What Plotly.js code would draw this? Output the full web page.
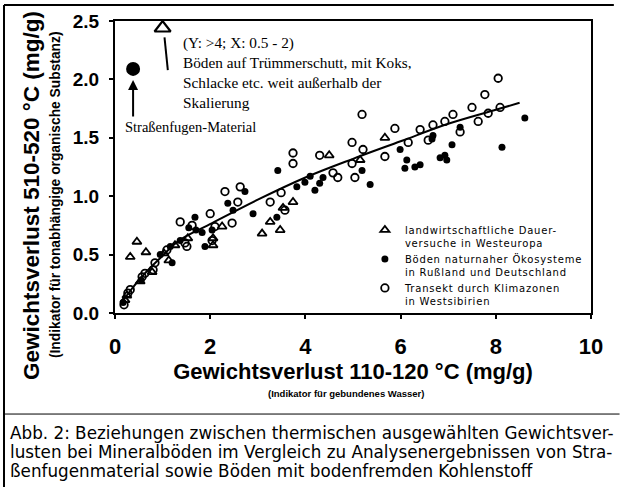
<!DOCTYPE html>
<html>
<head>
<meta charset="utf-8">
<script src="https://cdn.plot.ly/plotly-3.0.1.min.js"></script>
<style>
html,body{margin:0;padding:0;background:#fff;}
#chart .legendtext{letter-spacing:0.8px;}
#chart g.legend g.scrollbox{clip-path:none !important;}
</style>
</head>
<body>
<div id="chart" style="width:624px;height:487px;"></div>
<script>
// Landwirtschaftliche Dauerversuche in Westeuropa (open triangles)
const triX = [0.21,0.25,0.32,0.46,0.65,1.03,1.13,0.53,0.78,1.26,1.53,2.06,2.25,2.06,3.09,3.26,3.47,3.53,3.74,4.50,5.15,5.67];
const triY = [0.11,0.15,0.48,0.61,0.52,0.51,0.45,0.27,0.35,0.58,0.64,0.58,0.74,0.64,0.68,0.78,0.71,0.90,0.95,1.35,1.31,1.50];

// Böden naturnaher Ökosysteme in Rußland und Deutschland (filled circles)
const filX = [0.17,0.55,0.95,1.20,1.16,1.37,1.55,1.68,1.70,1.83,1.89,2.04,2.37,2.73,2.48,2.90,3.40,3.42,3.82,3.99,4.10,4.20,4.30,4.37,5.19,5.36,5.99,6.13,6.09,6.30,6.41,6.68,6.66,7.08,6.83,6.93,6.97,7.25,8.13,8.61];
const filY = [0.09,0.28,0.50,0.43,0.57,0.62,0.73,0.82,0.71,0.69,0.57,0.71,0.94,1.04,0.88,0.85,0.82,1.22,1.08,1.12,1.17,1.05,1.11,1.16,1.22,1.10,1.40,1.31,1.24,1.25,1.27,1.52,1.49,1.44,1.33,1.35,1.31,1.59,1.42,1.67];

// Transekt durch Klimazonen in Westsibirien (open circles)
const opnX = [0.19,0.27,0.32,0.57,0.63,0.80,0.84,1.09,1.37,1.47,1.51,1.62,2.00,2.04,2.10,2.31,2.46,2.58,2.63,3.26,3.49,3.57,3.74,3.74,4.30,4.58,4.68,4.98,4.98,5.04,5.19,5.21,5.67,5.88,6.16,6.41,6.58,6.68,6.93,7.10,7.25,7.50,7.63,7.77,7.84,8.05,8.09];
const opnY = [0.07,0.17,0.20,0.31,0.34,0.37,0.43,0.54,0.78,0.60,0.57,0.75,0.85,0.62,0.74,1.04,0.77,0.95,1.08,0.95,1.03,0.88,1.37,1.28,1.35,1.20,1.16,1.46,1.28,1.16,1.70,1.40,1.34,1.58,1.46,1.57,1.48,1.61,1.64,1.70,1.55,1.76,1.64,1.87,1.71,2.01,1.76];

// Regression curve
const fitX = [0.15,0.30,0.63,1.00,1.34,2.04,3.00,4.00,5.00,6.00,7.00,8.00,8.50];
const fitY = [0.09,0.18,0.34,0.49,0.62,0.77,0.97,1.16,1.32,1.47,1.62,1.74,1.80];

// Special points
const streetX = [0.38];
const streetY = [2.09];
const rubbleX = [1.00];
const rubbleY = [2.44];

const xTicks = [0,2,4,6,8,10];
const yTicks = [0,0.5,1,1.5,2,2.5];

const sans = 'Liberation Sans, Arial, sans-serif';
const serif = 'Liberation Serif, Times New Roman, serif';
const wide = 'DejaVu Sans, sans-serif';

const traces = [
  {x: triX, y: triY, type: 'scatter', mode: 'markers',
   name: 'landwirtschaftliche Dauer-<br>versuche in Westeuropa',
   marker: {symbol: 'triangle-up-open', size: 8, color: '#000', line: {width: 1.8, color: '#000'}}},
  {x: filX, y: filY, type: 'scatter', mode: 'markers',
   name: 'Böden naturnaher Ökosysteme<br>in Rußland und Deutschland',
   marker: {symbol: 'circle', size: 7, color: '#000'}},
  {x: opnX, y: opnY, type: 'scatter', mode: 'markers',
   name: 'Transekt durch Klimazonen<br>in Westsibirien',
   marker: {symbol: 'circle-open', size: 7.5, color: '#000', line: {width: 1.8, color: '#000'}}},
  {x: fitX, y: fitY, type: 'scatter', mode: 'lines', showlegend: false,
   line: {color: '#000', width: 2, shape: 'spline'}},
  {x: streetX, y: streetY, type: 'scatter', mode: 'markers', showlegend: false,
   marker: {symbol: 'circle-dot', size: 11, color: '#000', line: {width: 3, color: '#000'}}},
  {x: rubbleX, y: rubbleY, type: 'scatter', mode: 'markers', showlegend: false, cliponaxis: false,
   marker: {symbol: 'triangle-up-open', size: 14, color: '#000', line: {width: 2.2, color: '#000'}}}
];

const layout = {
  width: 624, height: 487,
  margin: {l: 115, r: 33, t: 21, b: 174},
  paper_bgcolor: '#fff', plot_bgcolor: '#fff',
  showlegend: true,
  legend: {x: 0.525, y: 0.329, xanchor: 'left', yanchor: 'top', valign: 'top',
           bgcolor: 'rgba(0,0,0,0)', font: {family: wide, size: 10, color: '#000'},
           tracegroupgap: 0, itemwidth: 30},
  xaxis: {range: [0, 10], tickvals: xTicks, ticks: 'outside', ticklen: 4, tickwidth: 1.5, tickcolor: '#000',
          showline: true, linewidth: 2, linecolor: '#000', mirror: true, showgrid: false, zeroline: false,
          tickfont: {family: sans, size: 22, weight: 'bold', color: '#000'}, ticklabelstandoff: 9,
          title: {text: 'Gewichtsverlust 110-120 °C (mg/g)', standoff: 0,
                  font: {family: sans, size: 22, weight: 'bold', color: '#000'}}},
  yaxis: {range: [0, 2.5], tickvals: yTicks, tickformat: '.1f', ticks: 'outside', ticklen: 4, tickwidth: 1.5, tickcolor: '#000',
          showline: true, linewidth: 2, linecolor: '#000', mirror: true, showgrid: false, zeroline: false,
          tickfont: {family: sans, size: 19, weight: 'bold', color: '#000'}, ticklabelstandoff: 6},
  annotations: [
    {xref: 'paper', yref: 'paper', x: -0.1765, y: 0.404, text: 'Gewichtsverlust 510-520 °C (mg/g)',
     textangle: -90, showarrow: false, xanchor: 'center', yanchor: 'middle',
     font: {family: sans, size: 22.5, weight: 'bold', color: '#000'}},
    {xref: 'paper', yref: 'paper', x: -0.126, y: 0.404, text: '(Indikator für tonabhängige organische Substanz)',
     textangle: -90, showarrow: false, xanchor: 'center', yanchor: 'middle',
     font: {family: sans, size: 13.8, weight: 'bold', color: '#000'}},
    {xref: 'paper', yref: 'paper', x: 0.485, y: -0.274, text: '(Indikator für gebundenes Wasser)',
     showarrow: false, xanchor: 'center', yanchor: 'middle',
     font: {family: sans, size: 9.5, weight: 'bold', color: '#000'}},
    {xref: 'paper', yref: 'paper', x: 0.1387, y: 0.963, xanchor: 'left', yanchor: 'top', align: 'left',
     text: '(Y: >4; X: 0.5 - 2)<br>Böden auf Trümmerschutt, mit Koks,<br>Schlacke etc. weit außerhalb der<br>Skalierung',
     showarrow: false, font: {family: serif, size: 15.3, color: '#000'}},
    {xref: 'paper', yref: 'paper', x: 0.0168, y: 0.637, xanchor: 'left', yanchor: 'middle',
     text: 'Straßenfugen-Material', showarrow: false, font: {family: serif, size: 14.5, color: '#000'}},
    {xref: 'x', yref: 'y', x: 0.38, y: 1.995, ax: 0, ay: 38, text: '', showarrow: true,
     arrowhead: 2, arrowsize: 1, arrowwidth: 2, arrowcolor: '#000'},
    {xref: 'paper', yref: 'paper', x: -0.2248, y: -0.411, xanchor: 'left', yanchor: 'middle', showarrow: false,
     text: 'Abb. 2: Beziehungen zwischen thermischen ausgewählten Gewichtsver-',
     font: {family: wide, size: 16.8, color: '#000'}},
    {xref: 'paper', yref: 'paper', x: -0.2248, y: -0.476, xanchor: 'left', yanchor: 'middle', showarrow: false,
     text: 'lusten bei Mineralböden im Vergleich zu Analysenergebnissen von Stra-',
     font: {family: wide, size: 16.8, color: '#000'}},
    {xref: 'paper', yref: 'paper', x: -0.2248, y: -0.541, xanchor: 'left', yanchor: 'middle', showarrow: false,
     text: 'ßenfugenmaterial sowie Böden mit bodenfremden Kohlenstoff',
     font: {family: wide, size: 16.8, color: '#000'}}
  ],
  shapes: [
    {type: 'line', xref: 'x', yref: 'y', x0: 1.11, y0: 2.08, x1: 1.04, y1: 2.36, line: {color: '#000', width: 2}},
    {type: 'line', xref: 'paper', yref: 'paper', x0: -0.2332, y0: 1.0548, x1: 1.048, y1: 1.0548, line: {color: '#000', width: 2}},
    {type: 'line', xref: 'paper', yref: 'paper', x0: -0.2332, y0: 1.0548, x1: -0.2332, y1: -0.6, line: {color: '#000', width: 2}},
    {type: 'line', xref: 'paper', yref: 'paper', x0: -0.2332, y0: -0.346, x1: 1.06, y1: -0.346, line: {color: '#000', width: 1}}
  ]
};

Plotly.newPlot('chart', traces, layout, {displayModeBar: false, responsive: false});
</script>
</body>
</html>
